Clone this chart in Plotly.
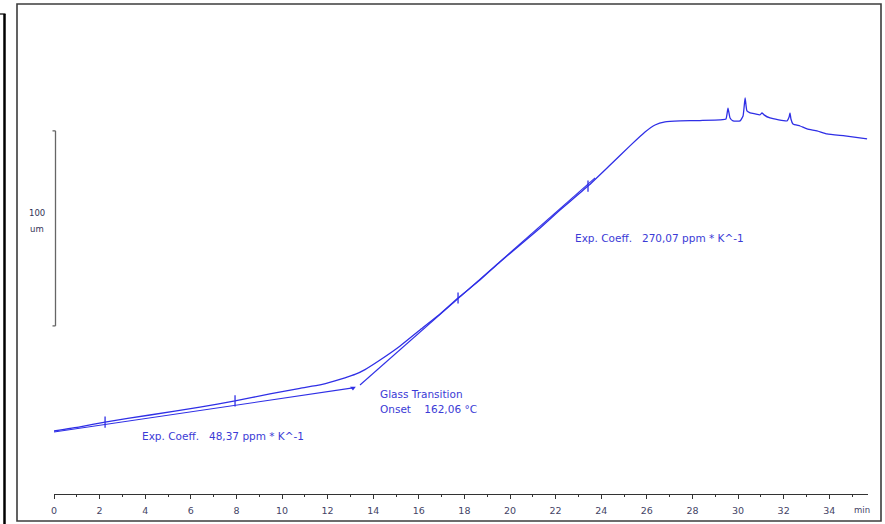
import plotly.graph_objects as go

# ---- data (time in min, expansion in um, relative offset) ----
time_min = [0.00, 1.14, 2.24, 4.21, 6.40, 7.94, 9.47, 10.79, 11.67, 12.32, 12.76,
            13.20, 13.64, 14.30, 15.18, 16.05, 16.93, 17.72, 18.68, 19.56, 20.44,
            21.32, 22.19, 23.42, 24.39, 25.26, 25.92, 26.36, 26.80, 27.46, 28.33,
            29.21, 29.47, 29.56, 29.65, 29.78, 30.09, 30.22, 30.31, 30.39, 30.53,
            30.75, 30.96, 31.05, 31.14, 31.40, 32.15, 32.24, 32.28, 32.32, 32.41,
            32.72, 33.03, 33.46, 33.90, 34.69, 35.66]
expansion_um = [32.3, 34.4, 36.9, 40.5, 44.6, 47.7, 51.3, 54.2, 55.9, 58.0, 59.6,
                61.3, 63.8, 68.7, 75.9, 84.1, 92.3, 100.5, 109.7, 119.0, 127.7,
                136.4, 145.6, 157.9, 168.7, 178.5, 185.6, 189.2, 190.8, 191.3, 191.5,
                191.8, 192.3, 197.9, 192.8, 191.3, 191.3, 193.8, 203.1, 196.4, 195.4,
                194.9, 194.4, 195.4, 194.4, 192.8, 191.3, 193.3, 195.4, 192.3, 189.7,
                188.7, 187.2, 186.2, 184.6, 183.6, 182.1]

# evaluation markers on the curve
marker_time = [2.24, 7.94, 17.72, 23.42]
marker_um = [36.9, 47.7, 100.5, 157.9]

# tangent lines
low_tangent_time = [0.00, 13.11]
low_tangent_um = [31.8, 54.4]
high_tangent_time = [13.42, 23.73]
high_tangent_um = [55.9, 162.1]
onset_time = [13.11]
onset_um = [54.4]

scale_bar_um = [86.2, 186.2]   # 100 um bar

x_ticks = list(range(0, 36, 2))

line_col = "#2f2fe6"
text_col = "#3b3bd6"
font_fam = "DejaVu Sans, Verdana, sans-serif"

fig = go.Figure()
fig.add_trace(go.Scatter(x=low_tangent_time, y=low_tangent_um, mode="lines",
                         line=dict(color=line_col, width=1.1), hoverinfo="skip"))
fig.add_trace(go.Scatter(x=high_tangent_time, y=high_tangent_um, mode="lines",
                         line=dict(color=line_col, width=1.1), hoverinfo="skip"))
fig.add_trace(go.Scatter(x=time_min, y=expansion_um, mode="lines",
                         line=dict(color=line_col, width=1.3, shape="spline", smoothing=0.4)))
fig.add_trace(go.Scatter(x=marker_time, y=marker_um, mode="markers",
                         marker=dict(symbol="line-ns", size=8,
                                     line=dict(color=line_col, width=1.3))))
fig.add_trace(go.Scatter(x=onset_time, y=onset_um, mode="markers",
                         marker=dict(symbol="triangle-down", size=5, color=line_col)))

# scale bar (100 um)
bx = 55.5 / 885
fig.add_shape(type="line", xref="paper", yref="y", x0=bx, x1=bx,
              y0=scale_bar_um[0], y1=scale_bar_um[1],
              line=dict(color="#666666", width=1.3))
for yv in scale_bar_um:
    fig.add_shape(type="line", xref="paper", yref="y", x0=bx - 3 / 885, x1=bx,
                  y0=yv, y1=yv, line=dict(color="#666666", width=1.3))

# frame and left border
fig.add_shape(type="rect", xref="paper", yref="paper",
              x0=17 / 885, x1=881 / 885, y0=1 - 521 / 524, y1=1 - 4 / 524,
              line=dict(color="#3c3c3c", width=1.6))
fig.add_shape(type="line", xref="paper", yref="paper",
              x0=4.5 / 885, x1=4.5 / 885, y0=0, y1=1 - 14 / 524,
              line=dict(color="#000000", width=2.5))
fig.add_shape(type="line", xref="paper", yref="paper",
              x0=0, x1=5.5 / 885, y0=1 - 14 / 524, y1=1 - 14 / 524,
              line=dict(color="#000000", width=1.2))

def ann(text, px, py, anchor="left", color=text_col, size=10.5):
    fig.add_annotation(text=text, xref="paper", yref="paper",
                       x=px / 885, y=1 - py / 524, xanchor=anchor, yanchor="middle",
                       showarrow=False, font=dict(family=font_fam, size=size, color=color))

ann("Exp. Coeff.   48,37 ppm * K^-1", 140, 436)
ann("Exp. Coeff.   270,07 ppm * K^-1", 573, 238)
ann("Glass Transition", 378, 394)
ann("Onset    162,06 °C", 378, 409)
ann("100", 37, 213, anchor="center", color="#333355", size=8.5)
ann("um", 37, 229, anchor="center", color="#333355", size=8.5)
ann("min", 862, 510, anchor="center", color="#444466", size=8.5)

fig.update_layout(
    width=885, height=524,
    margin=dict(l=0, r=0, t=0, b=0),
    paper_bgcolor="white", plot_bgcolor="white",
    showlegend=False,
    xaxis=dict(domain=[54 / 885, 868 / 885], range=[0, 35.7], showgrid=False,
               zeroline=False, showline=True, linecolor="#333333", linewidth=1.3,
               tickvals=x_ticks, ticks="outside", ticklen=4, tickwidth=1.2,
               tickcolor="#333333", ticklabelstandoff=3,
               minor=dict(dtick=1, tick0=0, ticks="outside", ticklen=2,
                          tickcolor="#333333"),
               tickfont=dict(family=font_fam, size=9.5, color="#444466"),
               automargin=False, fixedrange=True),
    yaxis=dict(domain=[1 - 494 / 524, 1], range=[0, 253.3], visible=False,
               automargin=False, fixedrange=True),
)

fig.write_html("out.html", config={"displayModeBar": False},
               post_script="document.body.style.margin='0';document.body.style.overflow='hidden';")
